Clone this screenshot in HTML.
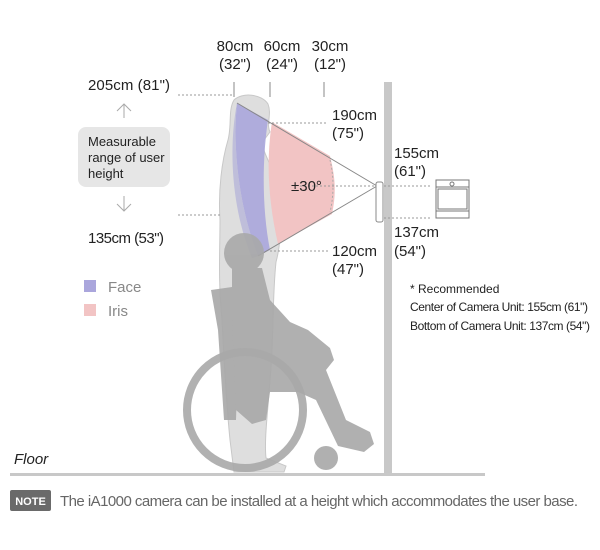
<!DOCTYPE html>
<html><head><meta charset="utf-8"><style>
html,body{margin:0;padding:0;background:#fff;width:600px;height:550px;overflow:hidden}
svg{display:block}
text{font-family:"Liberation Sans",sans-serif;fill:#222}
</style></head><body>
<svg width="600" height="550" viewBox="0 0 600 550" xmlns="http://www.w3.org/2000/svg">
<rect x="384" y="82" width="8" height="394" fill="#c8c8c8"/>
<rect x="10" y="473" width="475" height="3" fill="#c8c8c8"/>
<!-- standing person -->
<path d="M234,100 C242,92 262,94 268,104 C272,114 266,124 270,132 L264,140 C260,150 270,160 276,180 C282,210 282,240 276,262 C272,300 274,340 270,380 C268,410 264,440 266,458 L286,466 L284,472 L234,472 L230,440 C226,400 224,360 222,320 C218,280 220,250 220,220 C218,190 222,160 228,140 C232,125 228,110 234,100 Z" fill="#dedede" stroke="#c8c8c8" stroke-width="1"/>
<!-- face region -->
<path d="M237,103 L268,120 C262,160 262,210 270,250 L258,256 C240,210 232,150 237,103 Z" fill="#aaa6dc" opacity="0.9"/>
<path d="M237,103 C228,150 232,210 252,258 L258,256 C240,210 232,150 237,103 Z" fill="#b2b0d8" opacity="0.7"/>
<!-- iris -->
<path d="M272,122 L330,156 C336,180 336,195 332,214 L278,244 C268,200 266,160 272,122 Z" fill="#f2c4c4"/>
<line x1="237" y1="103" x2="377" y2="186" stroke="#888" stroke-width="1"/>
<line x1="258" y1="256" x2="377" y2="186" stroke="#888" stroke-width="1"/>
<line x1="300" y1="186" x2="432" y2="186" stroke="#999" stroke-width="1" stroke-dasharray="2,2"/>
<path d="M330,160 C334,176 334,196 330,212" fill="none" stroke="#aaa" stroke-width="1" stroke-dasharray="2,2"/>
<!-- wheelchair person -->
<g fill="#a8a8a8" opacity="0.9">
<circle cx="244" cy="253" r="20"/>
<path d="M211,290 L232,287 L240,300 L236,420 L224,420 L218,330 Z"/>
<path d="M232,268 L262,268 L270,300 L290,322 L308,330 L330,348 L334,360 L326,370 L346,420 L370,432 L374,444 L364,452 L338,446 L316,400 L298,392 L270,392 L266,420 L252,424 L236,410 L232,320 Z"/>
<circle cx="326" cy="458" r="12"/>
</g>
<circle cx="245" cy="410" r="58" fill="none" stroke="#a8a8a8" stroke-width="8" opacity="0.9"/>
<rect x="376" y="182" width="7" height="40" rx="2" fill="#fff" stroke="#888"/>
<g fill="none" stroke="#777" stroke-width="1">
<rect x="436" y="180" width="33" height="38"/>
<line x1="436" y1="187" x2="469" y2="187"/>
<line x1="436" y1="211" x2="469" y2="211"/>
<rect x="438" y="189" width="29" height="20"/>
<circle cx="452" cy="184" r="2"/>
</g>
<g stroke="#888" stroke-width="1">
<line x1="234" y1="82" x2="234" y2="97"/><line x1="270" y1="82" x2="270" y2="97"/><line x1="324" y1="82" x2="324" y2="97"/>
</g>
<g stroke="#999" stroke-width="1" stroke-dasharray="2,2" fill="none">
<line x1="178" y1="95" x2="234" y2="95"/>
<line x1="178" y1="215" x2="222" y2="215"/>
<line x1="268" y1="123" x2="328" y2="123"/>
<line x1="270" y1="251" x2="328" y2="251"/>
<line x1="384" y1="218" x2="432" y2="218"/>
</g>
<g stroke="#aaa" fill="none" stroke-width="1">
<line x1="124" y1="104" x2="124" y2="118"/><polyline points="117,111 124,104 131,111"/>
<line x1="124" y1="196" x2="124" y2="211"/><polyline points="117,204 124,211 131,204"/>
</g>
<rect x="78" y="127" width="92" height="60" rx="8" fill="#e6e6e6"/>
<g font-size="13">
<text x="88" y="146">Measurable</text>
<text x="88" y="162">range of user</text>
<text x="88" y="178">height</text>
</g>
<g font-size="15">
<text x="235" y="51" text-anchor="middle">80cm</text><text x="235" y="69" text-anchor="middle">(32")</text>
<text x="282" y="51" text-anchor="middle">60cm</text><text x="282" y="69" text-anchor="middle">(24")</text>
<text x="330" y="51" text-anchor="middle">30cm</text><text x="330" y="69" text-anchor="middle">(12")</text>
<text x="88" y="90" textLength="82">205cm (81")</text>
<text x="88" y="243" textLength="76">135cm (53")</text>
<text x="332" y="120">190cm</text><text x="332" y="138">(75")</text>
<text x="332" y="256">120cm</text><text x="332" y="274">(47")</text>
<text x="394" y="158">155cm</text><text x="394" y="176">(61")</text>
<text x="394" y="237">137cm</text><text x="394" y="256">(54")</text>
<text x="291" y="191">±30°</text>
</g>
<rect x="84" y="280" width="12" height="12" fill="#aaa6dc"/>
<rect x="84" y="304" width="12" height="12" fill="#f2c4c4"/>
<text x="108" y="292" font-size="15" style="fill:#888">Face</text>
<text x="108" y="316" font-size="15" style="fill:#888">Iris</text>
<g font-size="12">
<text x="410" y="293">* Recommended</text>
<text x="410" y="311" textLength="178">Center of Camera Unit: 155cm (61")</text>
<text x="410" y="330" textLength="180">Bottom of Camera Unit: 137cm (54")</text>
</g>
<text x="14" y="464" font-size="15" font-style="italic">Floor</text>
<rect x="10" y="490" width="41" height="21" rx="2" fill="#6a6a6a"/>
<text x="30.5" y="505" font-size="11" font-weight="bold" text-anchor="middle" style="fill:#fff">NOTE</text>
<text x="60" y="506" font-size="15" textLength="518" style="fill:#666">The iA1000 camera can be installed at a height which accommodates the user base.</text>
</svg>
</body></html>
